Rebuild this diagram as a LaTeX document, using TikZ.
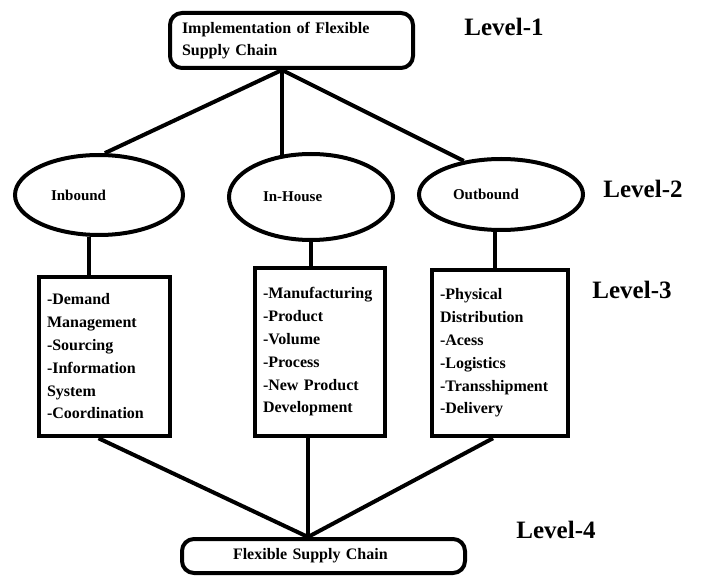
\documentclass[tikz,border=0pt]{standalone}
\usepackage{fontspec}
\setmainfont{Liberation Serif}
\usetikzlibrary{shapes.geometric}
\tikzset{capbox/.style={draw,line width=4pt,rounded corners=12pt,align=left,
        font=\fontsize{16}{22}\selectfont\bfseries}}
\tikzset{oval/.style={draw,ellipse,line width=4pt,text width=96pt,align=left,
        font=\fontsize{15}{18}\selectfont\bfseries}}
\tikzset{listbox/.style={draw,line width=4.5pt,inner xsep=8pt,align=left,
        font=\fontsize{16}{22.8}\selectfont\bfseries}}
\tikzset{lvl/.style={font=\fontsize{25}{30}\selectfont\bfseries}}
\tikzset{link/.style={line width=4pt}}

\begin{document}
\begin{tikzpicture}[x=1pt,y=-1pt]
    \useasboundingbox (0,0) rectangle (702,577);
    % level 1
    \node[capbox,inner xsep=12pt,text width=219pt,minimum height=55pt] (impl) at (291.5,40.5)
        {Implementation of Flexible\\Supply Chain};
    \node[lvl] (l1) at (504,27) {Level-1};
    % level 2
    \node[oval,minimum width=168pt,minimum height=80pt] (inb) at (99,195) {Inbound};
    \node[oval,minimum width=164pt,minimum height=86pt] (inh) at (311,197) {In-House};
    \node[oval,minimum width=164pt,minimum height=71pt] (outb) at (501,194.5) {Outbound};
    \node[lvl] (l2) at (643,189) {Level-2};
    % level 3
    \node[listbox,text width=115pt,minimum height=159pt] (lbox) at (104.5,356.5)
        {-Demand\\Management\\-Sourcing\\-Information\\System\\-Coordination};
    \node[listbox,text width=114pt,minimum height=168pt] (mbox) at (320,352)
        {-Manufacturing\\-Product\\-Volume\\-Process\\-New Product\\Development};
    \node[listbox,text width=120pt,minimum height=166pt] (rbox) at (500,353)
        {-Physical\\Distribution\\-Acess\\-Logistics\\-Transshipment\\-Delivery};
    \node[lvl] (l3) at (632,290) {Level-3};
    % level 4
    \node[capbox,inner xsep=51pt,text width=181pt,minimum height=34pt] (fsc) at (323.5,556)
        {Flexible Supply Chain};
    \node[lvl] (l4) at (556,530) {Level-4};

    \coordinate (fork) at ([xshift=-9.5pt]impl.south);
    \coordinate (join) at ([xshift=-15.5pt]fsc.north);
    \draw[link] (fork) -- (inb.82);
    \draw[link,shorten >=-4pt] (fork) -- (fork |- inh.north);
    \draw[link] (fork) -- (outb.138);
    \draw[link] (inb.257) -- (inb.257 |- lbox.north);
    \draw[link] (inh.south) -- (inh.south |- mbox.north);
    \draw[link] (outb.261) -- (outb.261 |- rbox.north);
    \draw[link] ([xshift=-6pt]lbox.south) -- (join);
    \draw[link] ([xshift=-12pt]mbox.south) -- (join);
    \draw[link] ([xshift=-7pt]rbox.south) -- (join);
\end{tikzpicture}
\end{document}
